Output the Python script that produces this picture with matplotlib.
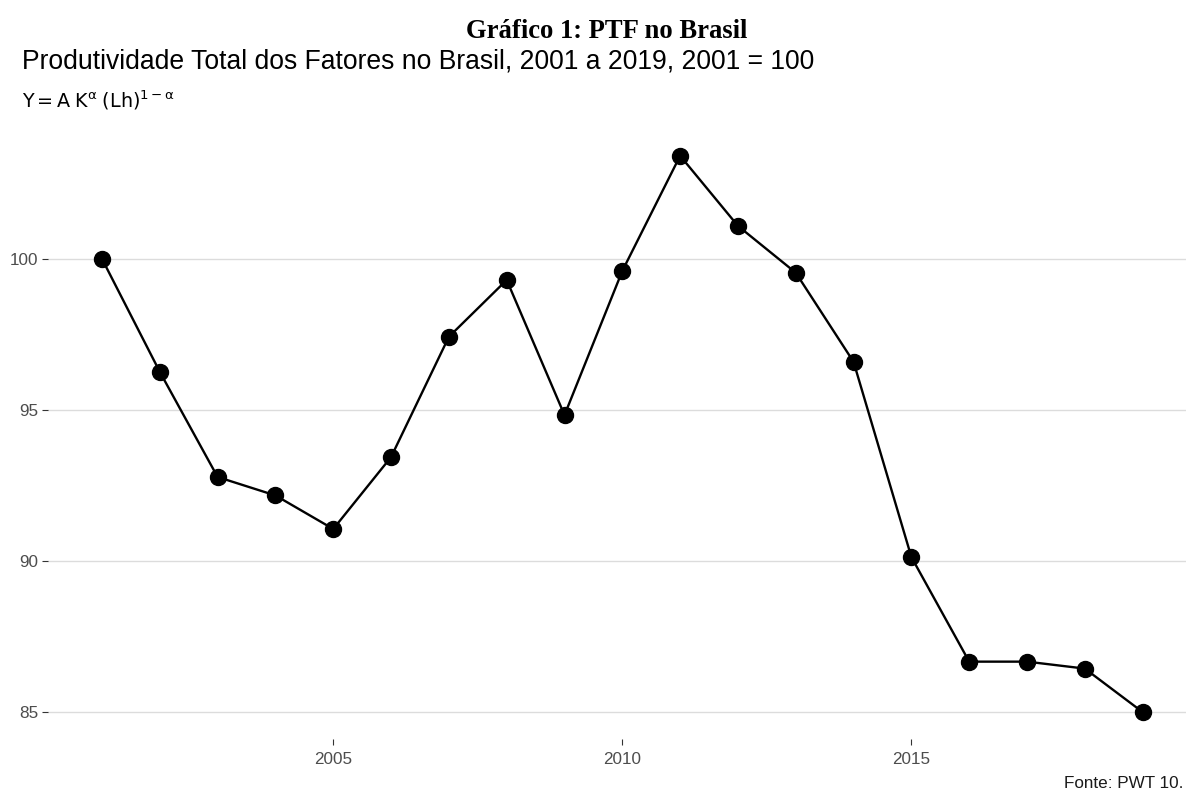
import matplotlib.pyplot as plt

years = list(range(2001, 2020))
ptf = [100.0, 96.26, 92.78, 92.17, 91.06, 93.44, 97.42, 99.30, 94.83, 99.60,
       103.41, 101.09, 99.54, 96.59, 90.13, 86.67, 86.67, 86.44, 85.00]
y_ticks = [85, 90, 95, 100]
x_ticks = [2005, 2010, 2015]

W, H = 1186, 794
fig = plt.figure(figsize=(W / 100, H / 100), dpi=100)
# panel in pixel coords: left 48, right 1186, top 128, bottom 739
ax = fig.add_axes([48 / W, 1 - 739 / H, (1186 - 48) / W, (739 - 128) / H])

ax.plot(years, ptf, color='black', lw=1.7, marker='o', markersize=11.5, zorder=3)

ax.set_xlim(2000.066, 2019.75)
ax.set_ylim(84.11, 104.33)
ax.set_xticks(x_ticks)
ax.set_yticks(y_ticks)
ax.grid(axis='y', color='#dcdcdc', lw=1.0)
ax.grid(axis='x', visible=False)
for s in ax.spines.values():
    s.set_visible(False)
ax.tick_params(axis='both', colors='#333333', labelcolor='#4d4d4d', labelsize=12.3,
               length=4, width=0.8)
ax.tick_params(axis='x', pad=5)
ax.tick_params(axis='y', pad=3)
for lab in ax.get_xticklabels() + ax.get_yticklabels():
    lab.set_family('Liberation Sans')

fig.text(607 / W, 1 - 32 / H, 'Gráfico 1: PTF no Brasil', ha='center', va='center',
         family='Liberation Serif', fontweight='bold', fontsize=19.2)
fig.text(22 / W, 1 - 62 / H, 'Produtividade Total dos Fatores no Brasil, 2001 a 2019, 2001 = 100',
         ha='left', va='center', family='Liberation Sans', fontsize=19.1, color='black')
plt.rcParams['mathtext.fontset'] = 'custom'
plt.rcParams['mathtext.rm'] = 'Liberation Sans'
plt.rcParams['mathtext.it'] = 'Liberation Sans'
fig.text(22 / W, 1 - 100 / H, r'$\mathregular{Y = A\ K^{\alpha}\ (Lh)^{1-\alpha}}$',
         ha='left', va='center', fontsize=13.8, color='black')
fig.text(1183 / W, 1 - 783 / H, 'Fonte: PWT 10.', ha='right', va='center',
         family='Liberation Sans', fontsize=12.3, color='#1a1a1a')

fig.savefig('out.png', dpi=100)
